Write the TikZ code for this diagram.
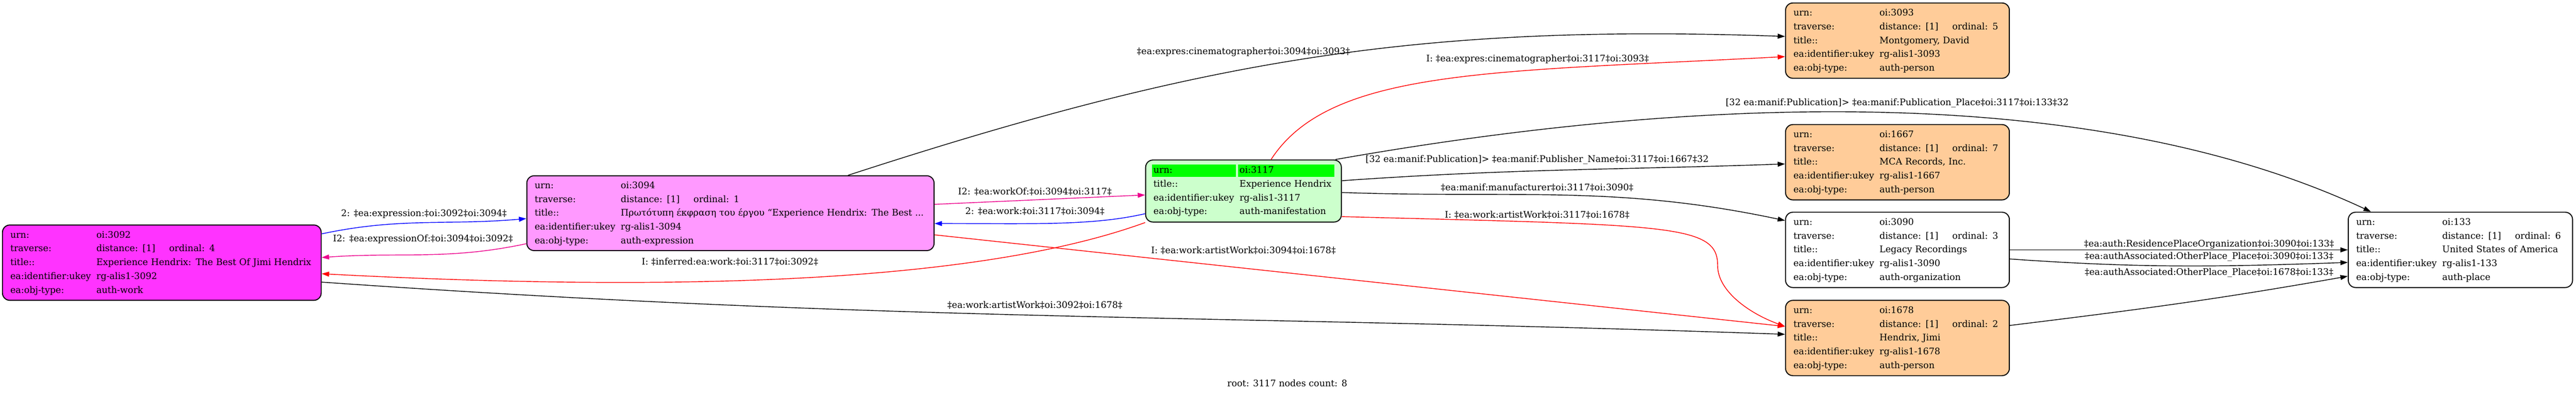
\documentclass[tikz,border=0pt]{standalone}
\usepackage{fontspec}
\setmainfont{DejaVu Serif}
\usetikzlibrary{arrows.meta}

\definecolor{workfill}{HTML}{FF33FF}
\definecolor{exprfill}{HTML}{FF99FF}
\definecolor{manifill}{HTML}{CCFFCC}
\definecolor{personfill}{HTML}{FFCC99}
\definecolor{hlgreen}{HTML}{00FF00}

\newcommand{\gfont}{\fontsize{5.23pt}{7.97pt}\selectfont}
\newcommand{\recrows}[5]{\begin{tabular}{@{}p{1.75cm}@{}l@{}}
urn: & #1\\
traverse: & \makebox[1.48cm][l]{distance: [1]}ordinal: #2\\
title:: & #3\\
ea:identifier:ukey & #4\\
ea:obj-type: & #5
\end{tabular}}
\newcommand{\hlcell}[2]{\hspace*{-0.03cm}\colorbox{hlgreen}{\rule[-0.043cm]{0pt}{0.19cm}\makebox[#1][l]{#2}}}

\begin{document}
\begin{tikzpicture}
  \tikzstyle{rec}=[draw=black, line width=0.02cm, rounded corners=0.15cm, inner xsep=0.16cm, inner ysep=0.05cm, align=left, font=\gfont]
  \tikzstyle{lbl}=[inner sep=0pt, font=\gfont]
  \tikzstyle{edge}=[line width=0.015cm, -{Triangle[length=0.15cm,width=0.1cm]}]
  \setlength{\fboxsep}{0.03cm}

  \useasboundingbox (0,0) rectangle (52.37,8);

  \node[rec, fill=workfill, text width=6.16cm, minimum height=1.53cm] (n3092) at (3.29,2.665)
    {\recrows{oi:3092}{4}{Experience Hendrix: The Best Of Jimi Hendrix}{rg-alis1-3092}{auth-work}};
  \node[rec, fill=exprfill, text width=7.96cm, minimum height=1.52cm] (n3094) at (14.85,3.67)
    {\recrows{oi:3094}{1}{Πρωτότυπη έκφραση του έργου “Experience Hendrix: The Best ...}{rg-alis1-3094}{auth-expression}};
  \node[rec, fill=manifill, text width=3.66cm, minimum height=1.26cm] (n3117) at (25.28,4.12)
    {\begin{tabular}{@{}p{1.75cm}@{}l@{}}
     \hlcell{1.65cm}{urn:} & \hlcell{1.90cm}{oi:3117}\\
     title:: & Experience Hendrix\\
     ea:identifier:ukey & rg-alis1-3117\\
     ea:obj-type: & auth-manifestation
     \end{tabular}};
  \node[rec, fill=personfill, text width=4.23cm, minimum height=1.53cm] (n3093) at (38.575,7.175)
    {\recrows{oi:3093}{5}{Montgomery, David}{rg-alis1-3093}{auth-person}};
  \node[rec, fill=personfill, text width=4.23cm, minimum height=1.53cm] (n1667) at (38.575,4.705)
    {\recrows{oi:1667}{7}{MCA Records, Inc.}{rg-alis1-1667}{auth-person}};
  \node[rec, fill=white, text width=4.23cm, minimum height=1.53cm] (n3090) at (38.575,2.925)
    {\recrows{oi:3090}{3}{Legacy Recordings}{rg-alis1-3090}{auth-organization}};
  \node[rec, fill=personfill, text width=4.23cm, minimum height=1.53cm] (n1678) at (38.575,1.135)
    {\recrows{oi:1678}{2}{Hendrix, Jimi}{rg-alis1-1678}{auth-person}};
  \node[rec, fill=white, text width=4.24cm, minimum height=1.53cm] (n133) at (50.02,2.925)
    {\recrows{oi:133}{6}{United States of America}{rg-alis1-133}{auth-place}};

  % edges between work and expression
  \draw[edge, blue] ([yshift=0.585cm]n3092.east) to[out=12,in=185] ([yshift=-0.11cm]n3094.west);
  \draw[edge, magenta] ([yshift=-0.62cm]n3094.west) to[out=192,in=4] ([yshift=0.105cm]n3092.east);
  \draw[edge, red] (n3117.south west) to[out=200,in=-3,out distance=4cm,in distance=6cm] ([yshift=-0.225cm]n3092.east);
  \draw[edge] ([yshift=-0.395cm]n3092.east) to[out=-4,in=178] ([yshift=0.075cm]n1678.west);

  % edges of the expression
  \draw[edge] ([xshift=2.39cm]n3094.north) to[out=18,in=178] ([yshift=0.085cm]n3093.west);
  \draw[edge, magenta] ([yshift=0.18cm]n3094.east) -- ([yshift=-0.08cm]n3117.west);
  \draw[edge, blue] ([yshift=-0.46cm]n3117.west) to[out=193,in=0,out distance=1.1cm,in distance=2cm] ([yshift=-0.21cm]n3094.east);
  \draw[edge, red] ([yshift=-0.44cm]n3094.east) -- ([yshift=0.235cm]n1678.west);

  % edges of the manifestation
  \draw[edge, red] ([xshift=0.56cm]n3117.north) to[out=57,in=183,out distance=2.2cm,in distance=6cm] ([yshift=-0.325cm]n3093.west);
  \draw[edge] ([xshift=1.87cm]n3117.north) to[out=10,in=155,out distance=8cm,in distance=6cm] ([xshift=-1.82cm]n133.north);
  \draw[edge] ([yshift=0.21cm]n3117.east) to[out=4,in=182] ([yshift=-0.035cm]n1667.west);
  \draw[edge] ([yshift=-0.03cm]n3117.east) to[out=-2,in=168] ([yshift=0.595cm]n3090.west);
  \draw[edge, red] ([yshift=-0.52cm]n3117.east) to[out=-1.5,in=90,out distance=6.73cm,in distance=0.85cm] (34.92,2.60)
    to[out=-90,in=160,out distance=0.5cm,in distance=0.8cm] ([yshift=0.235cm]n1678.west);

  % edges to the place
  \draw[edge] (n3090.east) -- (n133.west);
  \draw[edge] ([yshift=-0.185cm]n3090.east) to[out=-4,in=182] ([yshift=-0.255cm]n133.west);
  \draw[edge] ([yshift=0.255cm]n1678.east) to[out=7,in=190] ([yshift=-0.535cm]n133.west);

  % edge labels
  \node[lbl] (l1) at (8.62,3.66) {2: ‡ea:expression:‡oi:3092‡oi:3094‡};
  \node[lbl] (l2) at (8.60,3.14) {I2: ‡ea:expressionOf:‡oi:3094‡oi:3092‡};
  \node[lbl] (l3) at (14.84,2.68) {I: ‡inferred:ea:work:‡oi:3117‡oi:3092‡};
  \node[lbl] (l4) at (21.04,1.80) {‡ea:work:artistWork‡oi:3092‡oi:1678‡};
  \node[lbl] (l5) at (25.28,6.94) {‡ea:expres:cinematographer‡oi:3094‡oi:3093‡};
  \node[lbl] (l6) at (31.26,6.80) {I: ‡ea:expres:cinematographer‡oi:3117‡oi:3093‡};
  \node[lbl] (l7) at (31.25,4.75) {[32 ea:manif:Publication]> ‡ea:manif:Publisher\_Name‡oi:3117‡oi:1667‡32};
  \node[lbl] (l8) at (38.57,5.91) {[32 ea:manif:Publication]> ‡ea:manif:Publication\_Place‡oi:3117‡oi:133‡32};
  \node[lbl] (l9) at (31.25,4.19) {‡ea:manif:manufacturer‡oi:3117‡oi:3090‡};
  \node[lbl] (l10) at (31.25,3.64) {I: ‡ea:work:artistWork‡oi:3117‡oi:1678‡};
  \node[lbl] (l11) at (25.28,2.91) {I: ‡ea:work:artistWork‡oi:3094‡oi:1678‡};
  \node[lbl] (l12) at (21.04,3.71) {2: ‡ea:work:‡oi:3117‡oi:3094‡};
  \node[lbl] (l13) at (21.04,4.11) {I2: ‡ea:workOf:‡oi:3094‡oi:3117‡};
  \node[lbl] (l14) at (44.91,3.04) {‡ea:auth:ResidencePlaceOrganization‡oi:3090‡oi:133‡};
  \node[lbl] (l15) at (44.91,2.79) {‡ea:authAssociated:OtherPlace\_Place‡oi:3090‡oi:133‡};
  \node[lbl] (l16) at (44.91,2.46) {‡ea:authAssociated:OtherPlace\_Place‡oi:1678‡oi:133‡};

  \node[lbl] (root) at (26.17,0.22) {root: 3117 nodes count: 8};
\end{tikzpicture}
\end{document}
